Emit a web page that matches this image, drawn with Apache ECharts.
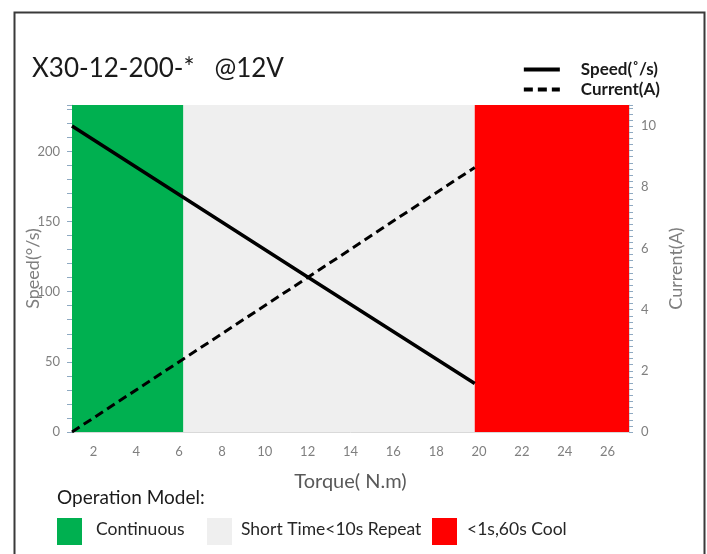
<!DOCTYPE html>
<html><head><meta charset="utf-8">
<script src="https://cdn.jsdelivr.net/npm/echarts@6/dist/echarts.min.js"></script>
<style>html,body{margin:0;padding:0;background:#fff}#c{width:707px;height:554px}</style>
</head><body><div id="c"></div>
<script>
const torque = [1, 12, 19.8];
const speed = [218, 110.5, 34.5];
const current = [0, 5.05, 8.65];
const bandNames = ['Continuous', 'Short Time<10s Repeat', '<1s,60s Cool'];
const bandStart = [1, 6.2, 19.8];
const bandEnd = [6.2, 19.8, 27];
const bandColors = ['#00b050', '#efefef', '#ff0000'];
const xTicks = [2,4,6,8,10,12,14,16,18,20,22,24,26];
const speedTicks = [0,50,100,150,200];
const currentTicks = [0,2,4,6,8,10];

const FONT = 'Lato';
const chart = echarts.init(document.getElementById('c'));

const bandData = bandStart.map((s,i)=>[{xAxis:s, itemStyle:{color:bandColors[i]}},{xAxis:bandEnd[i]}]);

const legendItems = [];
const boxX = [57, 207, 432];
const txtX = [96, 241, 467];
bandNames.forEach((n,i)=>{
  legendItems.push({type:'rect', left:boxX[i], top:518, shape:{width:25,height:27}, style:{fill:bandColors[i]}});
  legendItems.push({type:'text', left:txtX[i], top:520, style:{text:n, fill:'#262626', font:'17.5px '+FONT}});
});

chart.setOption({
  animation:false,
  textStyle:{fontFamily:FONT},
  title:{text:'X30-12-200-*   @12V', left:27, top:51, textStyle:{fontSize:26, fontWeight:'normal', color:'#1a1a1a', fontFamily:FONT}},
  legend:{
    orient:'vertical', right:42, top:56, itemWidth:36, itemHeight:12, itemGap:3,
    itemStyle:{color:'rgba(0,0,0,0)', borderWidth:0, opacity:0},
    lineStyle:{width:4},
    textStyle:{fontSize:17, fontWeight:'bold', color:'#1a1a1a', fontFamily:FONT, padding:[0,0,0,16]},
    data:['Speed(˚/s)','Current(A)']
  },
  grid:{left:72, right:78, top:105, bottom:122},
  xAxis:{
    type:'value', min:1, max:27, interval:1,
    name:'Torque( N.m)', nameLocation:'middle', nameGap:40, nameMoveOverlap:false,
    nameTextStyle:{fontSize:20, color:'#595959', fontFamily:FONT},
    axisLine:{show:true, lineStyle:{color:'#d9d9d9'}},
    axisTick:{show:false},
    axisLabel:{customValues:xTicks, color:'#7f7f7f', fontSize:13, margin:13, fontFamily:FONT},
    splitLine:{show:false}
  },
  yAxis:[{
    type:'value', min:0, max:233, interval:10,
    name:'Speed(°/s)', nameLocation:'middle', nameGap:30, nameMoveOverlap:false,
    nameTextStyle:{fontSize:18, color:'#7f7f7f', fontFamily:FONT},
    axisLine:{show:true, lineStyle:{color:'#d9d9d9'}},
    axisTick:{show:true, length:5, lineStyle:{color:'#8ea9c1'}},
    axisLabel:{customValues:speedTicks, color:'#7f7f7f', fontSize:13, margin:12, fontFamily:FONT},
    splitLine:{show:false}
  },{
    type:'value', min:0, max:10.69, interval:0.2,
    name:'Current(A)', nameLocation:'middle', nameGap:38, nameMoveOverlap:false,
    nameTextStyle:{fontSize:18, color:'#7f7f7f', fontFamily:FONT},
    axisLine:{show:true, lineStyle:{color:'#d9d9d9'}},
    axisTick:{show:true, length:4, lineStyle:{color:'#8ea9c1'}},
    axisLabel:{customValues:currentTicks, color:'#7f7f7f', fontSize:13, margin:12, fontFamily:FONT},
    splitLine:{show:false}
  }],
  series:[{
    name:'bands', type:'line', data:[], silent:true,
    markArea:{silent:true, data:bandData}
  },{
    name:'Speed(˚/s)', type:'line', yAxisIndex:0, showSymbol:false, symbol:'none',
    data:torque.map((t,i)=>[t,speed[i]]),
    lineStyle:{color:'#000', width:3.5}, itemStyle:{color:'#000'}
  },{
    name:'Current(A)', type:'line', yAxisIndex:1, showSymbol:false, symbol:'none',
    data:torque.map((t,i)=>[t,current[i]]),
    lineStyle:{color:'#000', width:3, type:[9,5]}, itemStyle:{color:'#000'}
  }],
  graphic:[
    {type:'rect', left:12, top:10, shape:{width:690,height:560}, style:{fill:null, stroke:'#3a3a3a', lineWidth:2}, silent:true},
    {type:'text', left:57, top:488, style:{text:'Operation Model:', fill:'#1a1a1a', font:'19px '+FONT}}
  ].concat(legendItems)
});
</script></body></html>
